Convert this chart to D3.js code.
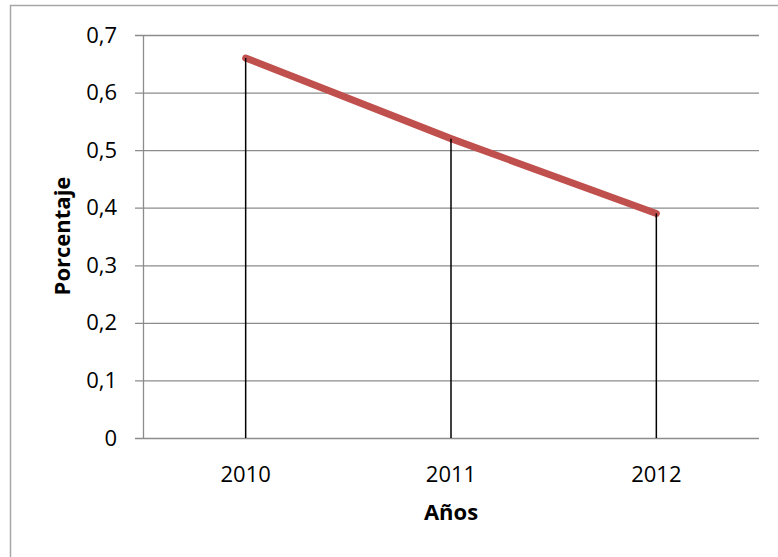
<!DOCTYPE html>
<html>
<head>
<meta charset="utf-8">
<script src="https://cdn.jsdelivr.net/npm/d3@7/dist/d3.min.js"></script>
<style>
  html, body { margin: 0; padding: 0; background: #fff; }
  svg { display: block; font-family: "Open Sans", "Noto Sans", sans-serif; }
</style>
</head>
<body>
<svg id="chart" width="778" height="557"></svg>
<script>
// Share per year
const years = ["2010", "2011", "2012"];
const porcentaje = [0.66, 0.52, 0.39];
const yTicks = [0, 0.1, 0.2, 0.3, 0.4, 0.5, 0.6, 0.7];
const yTitle = "Porcentaje";
const xTitle = "Años";

const svg = d3.select("#chart");
const W = 778, H = 557;
const plot = { left: 143, right: 759, top: 35, bottom: 438 };
const FS = 22;

// Outer frame of the chart area
svg.append("rect")
  .attr("x", 10.5).attr("y", 5.5)
  .attr("width", W + 20).attr("height", H + 20)
  .attr("fill", "#fff").attr("stroke", "#a6a6a6").attr("stroke-width", 1.5);

const x = d3.scaleBand().domain(years).range([plot.left, plot.right]);
const y = d3.scaleLinear().domain([0, 0.7]).range([plot.bottom, plot.top]);
const fmt = d => d3.format(".1f")(d).replace(".", ",");

// Horizontal gridlines with tick stubs to the left of the axis
const yAxis = d3.axisLeft(y)
  .tickValues(yTicks)
  .tickSize(-(plot.right - plot.left))
  .tickPadding(26)
  .tickFormat(d => d === 0 ? "0" : fmt(d));
const gy = svg.append("g").attr("transform", `translate(${plot.left},0)`).call(yAxis);
gy.attr("font-family", null).attr("font-size", null);
gy.select(".domain").remove();
gy.selectAll(".tick line")
  .attr("x1", -8)
  .attr("stroke", "#8c8c8c").attr("stroke-width", 1.3);
gy.selectAll(".tick text")
  .attr("font-size", FS).attr("fill", "#000");

// Vertical axis line
svg.append("line")
  .attr("x1", plot.left + 0.5).attr("x2", plot.left + 0.5)
  .attr("y1", plot.top).attr("y2", plot.bottom)
  .attr("stroke", "#8c8c8c").attr("stroke-width", 1.3);

// Category labels under the base line
svg.append("g").selectAll("text")
  .data(years).join("text")
  .attr("x", d => x(d) + x.bandwidth() / 2)
  .attr("y", 482)
  .attr("text-anchor", "middle")
  .attr("font-size", FS)
  .attr("fill", "#000")
  .text(d => d);

const pts = years.map((yr, i) => ({ yr, v: porcentaje[i] }));
const cx = d => x(d.yr) + x.bandwidth() / 2;

// Drop lines from each point to the base line
svg.append("g").selectAll("line")
  .data(pts).join("line")
  .attr("x1", d => cx(d)).attr("x2", d => cx(d))
  .attr("y1", d => y(d.v)).attr("y2", plot.bottom)
  .attr("stroke", "#000").attr("stroke-width", 1.5);

// Series line
svg.append("path")
  .datum(pts)
  .attr("d", d3.line().x(cx).y(d => y(d.v)))
  .attr("fill", "none")
  .attr("stroke", "#c0504d")
  .attr("stroke-width", 7)
  .attr("stroke-linecap", "round")
  .attr("stroke-linejoin", "round");

// Redraw drop-line tops over the series line
svg.append("g").selectAll("line")
  .data(pts).join("line")
  .attr("x1", d => cx(d)).attr("x2", d => cx(d))
  .attr("y1", d => y(d.v)).attr("y2", d => y(d.v) + 4)
  .attr("stroke", "#000").attr("stroke-width", 1.5);

// Axis titles
svg.append("text")
  .attr("x", (plot.left + plot.right) / 2)
  .attr("y", 520)
  .attr("text-anchor", "middle")
  .attr("font-size", FS).attr("font-weight", "bold")
  .text(xTitle);

svg.append("text")
  .attr("transform", "translate(70,236) rotate(-90)")
  .attr("text-anchor", "middle")
  .attr("font-size", FS).attr("font-weight", "bold")
  .text(yTitle);
</script>
</body>
</html>
